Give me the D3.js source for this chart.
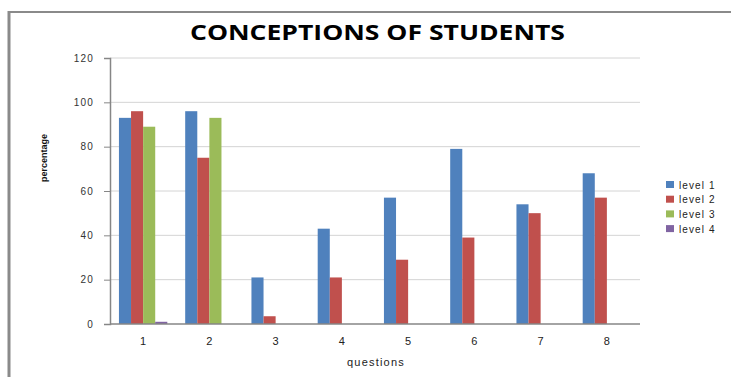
<!DOCTYPE html>
<html>
<head>
<meta charset="utf-8">
<script src="https://cdn.jsdelivr.net/npm/d3@7"></script>
<style>
  body { margin: 0; background: #fff; }
</style>
</head>
<body>
<svg id="chart" width="731" height="377" font-family="Liberation Sans, Arial, sans-serif"></svg>
<script>
const questions = ["1", "2", "3", "4", "5", "6", "7", "8"];
const levels = ["level 1", "level 2", "level 3", "level 4"];
const level1 = [93, 96, 21, 43, 57, 79, 54, 68];
const level2 = [96, 75, 3.5, 21, 29, 39, 50, 57];
const level3 = [89, 93, 0, 0, 0, 0, 0, 0];
const level4 = [1, 0, 0, 0, 0, 0, 0, 0];
const yTicks = [0, 20, 40, 60, 80, 100, 120];
const colors = ["#4f81bd", "#c0504d", "#9bbb59", "#8064a2"];

const series = [level1, level2, level3, level4];
const data = questions.map((q, i) => ({
  q: q,
  vals: series.map((s, j) => ({ level: levels[j], v: s[i], c: colors[j] }))
}));

const svg = d3.select("#chart");

// outer frame (only top and left edges visible)
svg.append("line").attr("x1", 9).attr("x2", 731).attr("y1", 12).attr("y2", 12)
  .attr("stroke", "#8a8a8a").attr("stroke-width", 2);
svg.append("line").attr("x1", 9).attr("x2", 9).attr("y1", 11).attr("y2", 377)
  .attr("stroke", "#8a8a8a").attr("stroke-width", 3);

const margin = {left: 110, right: 640, top: 58, bottom: 324};

const x = d3.scaleBand().domain(questions).range([margin.left, margin.right]).paddingInner(0.27).paddingOuter(0.135);
const xs = d3.scaleBand().domain(levels).range([0, x.bandwidth()]);
const y = d3.scaleLinear().domain([0, 120]).range([margin.bottom, margin.top]);

// gridlines
svg.append("g").selectAll("line").data(yTicks.filter(d => d > 0)).join("line")
  .attr("x1", margin.left).attr("x2", margin.right)
  .attr("y1", d => y(d)).attr("y2", d => y(d))
  .attr("stroke", "#d4d4d4").attr("stroke-width", 1);

// bars
svg.append("g").selectAll("g").data(data).join("g")
  .attr("transform", d => `translate(${x(d.q)},0)`)
  .selectAll("rect").data(d => d.vals.filter(v => v.v > 0)).join("rect")
    .attr("x", d => xs(d.level))
    .attr("width", xs.bandwidth())
    .attr("y", d => y(d.v))
    .attr("height", d => y(0) - y(d.v))
    .attr("fill", d => d.c);

// y axis
const yAxis = svg.append("g").attr("transform", `translate(${margin.left},0)`)
  .call(d3.axisLeft(y).tickValues(yTicks).tickSize(6).tickPadding(10));
yAxis.select(".domain").attr("stroke", "#868686").attr("stroke-width", 1.5);
yAxis.selectAll(".tick line").attr("stroke", "#868686");
yAxis.selectAll(".tick text").attr("font-size", 10).attr("fill", "#333")
  .attr("letter-spacing", 1.2).attr("font-family", "Liberation Sans, Arial, sans-serif");

// x axis
const xAxis = svg.append("g").attr("transform", `translate(0,${margin.bottom})`)
  .call(d3.axisBottom(x).tickSize(0).tickPadding(13));
xAxis.select(".domain").attr("stroke", "#868686").attr("stroke-width", 1.5)
  .attr("d", `M${margin.left},0H${margin.right}`);
xAxis.selectAll(".tick text").attr("font-size", 11).attr("fill", "#222")
  .attr("font-family", "Liberation Sans, Arial, sans-serif");

// title
svg.append("text").attr("x", 190).attr("y", 40)
  .attr("font-size", 22).attr("font-weight", "bold").attr("fill", "#000")
  .attr("font-family", "Open Sans, Liberation Sans, sans-serif")
  .attr("textLength", 375).attr("lengthAdjust", "spacingAndGlyphs")
  .text("CONCEPTIONS OF STUDENTS");

// axis titles
svg.append("text").attr("x", 376).attr("y", 366).attr("text-anchor", "middle")
  .attr("font-size", 11).attr("letter-spacing", 1.2).attr("fill", "#222")
  .text("questions");
svg.append("text").attr("transform", "translate(47,158) rotate(-90)")
  .attr("text-anchor", "middle").attr("font-size", 9).attr("font-weight", "bold")
  .attr("fill", "#111").text("percentage");

// legend
const legend = svg.append("g").attr("transform", "translate(666,185)")
  .selectAll("g").data(levels).join("g")
  .attr("transform", (d, i) => `translate(0,${i * 14.7})`);
legend.append("rect").attr("x", 0).attr("y", -4).attr("width", 8).attr("height", 7)
  .attr("fill", (d, i) => colors[i]);
legend.append("text").attr("x", 13).attr("y", 3.5).attr("font-size", 10)
  .attr("letter-spacing", 1.1).attr("fill", "#222").text(d => d);
</script>
</body>
</html>
